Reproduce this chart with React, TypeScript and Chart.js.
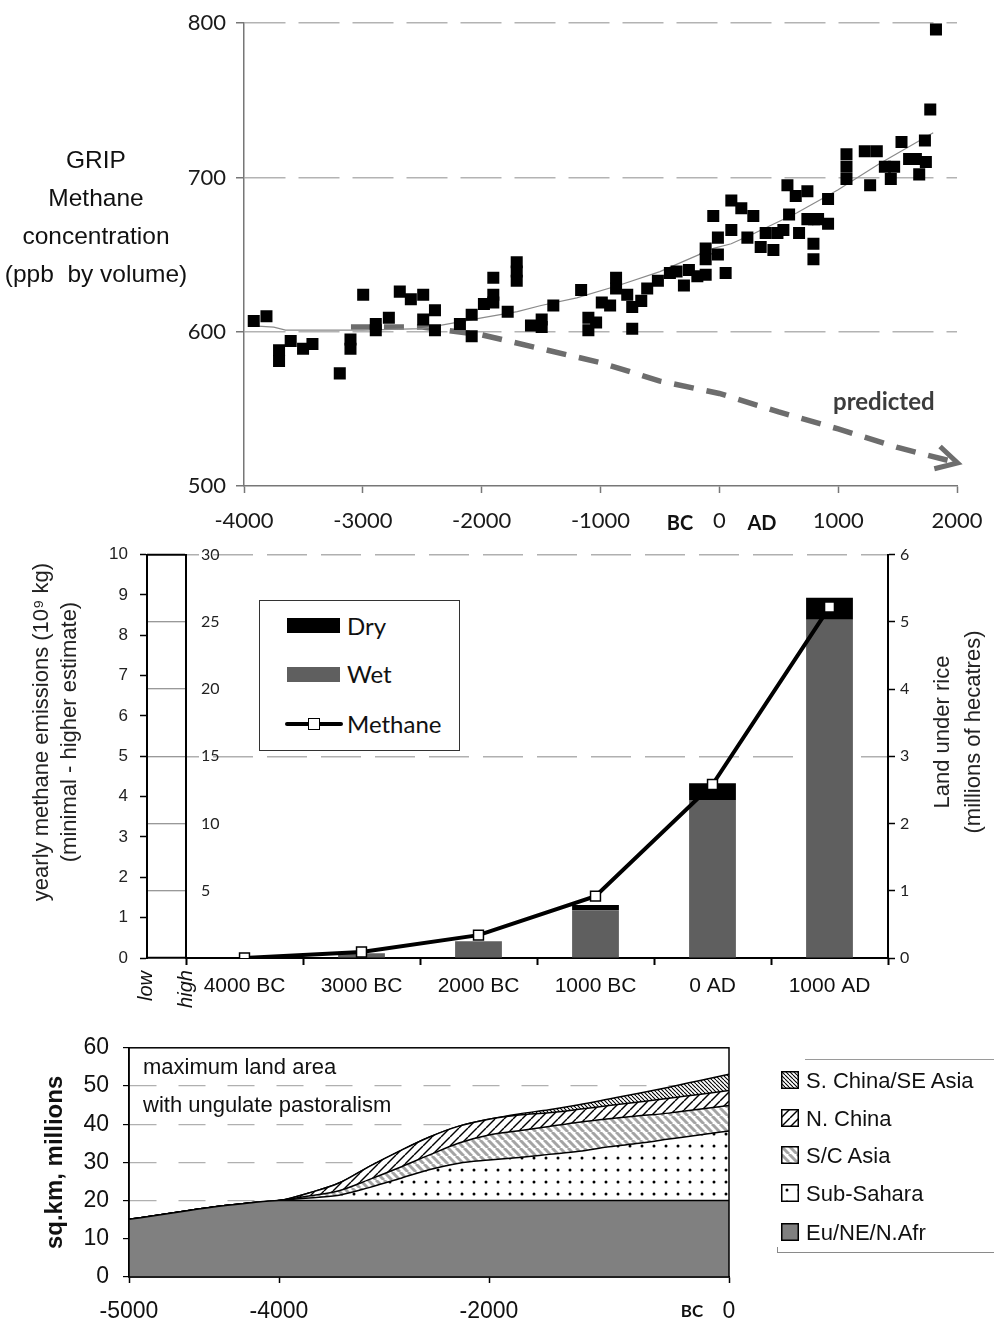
import React, { useEffect, useRef } from 'react';
import { Chart, registerables } from 'chart.js';
Chart.register(...registerables);

// ---------------- Top panel: GRIP methane ----------------
const gripYears = [
  -3918, -3811, -3705, -3705, -3607, -3503, -3424, -3194, -3104, -3104,
  -2997, -2891, -2891, -2781, -2689, -2596, -2492, -2492, -2393, -2393,
  -2183, -2084, -2084, -1981, -1902, -1902, -1902, -1781, -1705, -1705,
  -1705, -1585, -1495, -1495, -1397, -1163, -1102, -1102, -1037, -989,
  -919, -869, -869, -775, -733, -733, -657, -607, -517, -416,
  -360, -298, -256, -185, -115, -115, -115, -51, -12, -12,
  53, 101, 101, 185, 236, 286, 348, 390, 455, 489,
  539, 573, 587, 643, 671, 741, 741, 797, 792, 792,
  831, 915, 915, 1070, 1070, 1070, 1224, 1269, 1325, 1393,
  1443, 1471, 1533, 1597, 1654, 1682, 1730, 1738, 1775, 1823,
];
const gripPpb = [
  607, 610, 588, 581, 594, 589, 592, 573, 595, 589,
  624, 605, 601, 609, 626, 621, 624, 608, 614, 601,
  605, 611, 597, 618, 635, 624, 619, 613, 645, 639,
  633, 604, 608, 603, 617, 627, 609, 601, 606, 619,
  617, 635, 628, 624, 616, 602, 620, 628, 633, 638,
  639, 630, 640, 636, 654, 647, 637, 675, 661, 650,
  638, 685, 666, 680, 661, 675, 655, 664, 653, 664,
  666, 695, 676, 688, 664, 691, 673, 673, 657, 647,
  673, 686, 670, 715, 707, 699, 717, 695, 717, 707,
  699, 707, 723, 712, 712, 702, 724, 710, 744, 796,
];
const trendYears = [-3950, -3750, -3650, -3000, -2500, -2000, -1700, -1500, -1200, -850, -500, -50, 100, 300, 650, 1000, 1350, 1800];
const trendPpb = [604, 603, 601, 601, 602, 609, 613, 617, 622, 630, 639, 654, 657, 664, 677, 692, 709, 729];
const predYears = [-3100, -2500, -2000, -1500, -1000, -500, 0, 500, 1000, 1500, 2005];
const predPpb = [603, 603, 598, 589, 580, 568, 560, 548, 537, 525, 515];
const topXTicks = [-4000, -3000, -2000, -1000, 0, 1000, 2000];
const topYTicks = [500, 600, 700, 800];

// ---------------- Middle panel: rice ----------------
const riceCategories = ['4000 BC', '3000 BC', '2000 BC', '1000 BC', '0 AD', '1000 AD'];
const wetLand = [0, 0.07, 0.25, 0.71, 2.35, 5.03];
const dryLand = [0, 0, 0, 0.08, 0.25, 0.33];
const methaneEmission = [0, 0.45, 1.7, 4.6, 12.9, 26.1];
const lowTicks = [0, 1, 2, 3, 4, 5, 6, 7, 8, 9, 10];
const highTicks = [0, 5, 10, 15, 20, 25, 30];
const riceTicks = [0, 1, 2, 3, 4, 5, 6];

// ---------------- Bottom panel: pastoralism ----------------
const landYears = [-5000, -4800, -4600, -4400, -4200, -4000, -3714, -3429, -3143, -2857, -2571, -2286, -2000, -1750, -1500, -1250, -1000, -750, -500, -250, 0];
const landTickYears = [-5000, -4000, -2000, 0];
const euNeNAfr = [15.1, 16.2, 17.4, 18.5, 19.4, 20, 20, 20, 20, 20, 20, 20, 20, 20, 20, 20, 20, 20, 20, 20, 20];
const subSahara = [0, 0, 0, 0, 0, 0, 0.7, 1.4, 3.4, 5.7, 8.1, 9.8, 10.6, 11.3, 12.1, 12.9, 14.1, 15.0, 16.1, 17.2, 18.2];
const scAsia = [0, 0, 0, 0, 0, 0, 0.5, 1.2, 2.1, 2.9, 3.8, 5.3, 6.6, 7.0, 7.3, 7.6, 7.3, 7.2, 6.8, 6.7, 6.7];
const nChina = [0, 0, 0, 0, 0, 0, 0.8, 2.0, 3.4, 4.3, 4.7, 4.4, 4.1, 4.1, 3.6, 3.4, 3.5, 3.6, 3.9, 3.9, 3.9];
const sChinaSEAsia = [0, 0, 0, 0, 0, 0, 0, 0, 0, 0, 0, 0, 0, 0.3, 0.8, 1.2, 1.7, 2.3, 2.9, 3.6, 4.3];
const landYTicks = [0, 10, 20, 30, 40, 50, 60];

const ARIAL = 'Liberation Sans';
const CALIBRI = 'Lato';

function makeFill(kind: string): any {
  if (kind === 'eu') return '#808080';
  const tile = document.createElement('canvas');
  let s = 12;
  if (kind === 'dots') s = 12;
  if (kind === 'sc') s = 8;
  if (kind === 'nc') s = 9;
  if (kind === 'sch') s = 4;
  tile.width = s; tile.height = s;
  const c = tile.getContext('2d')!;
  c.fillStyle = '#fff';
  c.fillRect(0, 0, s, s);
  if (kind === 'dots') {
    c.fillStyle = '#000';
    c.beginPath(); c.arc(6, 6, 1.5, 0, Math.PI * 2); c.fill();
  } else if (kind === 'sc') {
    c.strokeStyle = '#a4a4a4'; c.lineWidth = 3;
    for (const k of [-s, 0, s]) { c.beginPath(); c.moveTo(k, 0); c.lineTo(k + s, s); c.stroke(); }
  } else if (kind === 'nc') {
    c.strokeStyle = '#000'; c.lineWidth = 1.4;
    for (const k of [-s, 0, s]) { c.beginPath(); c.moveTo(k, s); c.lineTo(k + s, 0); c.stroke(); }
  } else if (kind === 'sch') {
    c.strokeStyle = '#000'; c.lineWidth = 1.1;
    for (const k of [-s, 0, s]) { c.beginPath(); c.moveTo(k, 0); c.lineTo(k + s, s); c.stroke(); }
  }
  const tmp = document.createElement('canvas').getContext('2d')!;
  return tmp.createPattern(tile, 'repeat');
}

const arrowPlugin = {
  id: 'arrowHead',
  afterDatasetsDraw(chart: any) {
    const meta = chart.getDatasetMeta(2);
    const pts = meta.data;
    const n = pts.length;
    if (n < 2) return;
    const a = pts[n - 2], b = pts[n - 1];
    const ang = Math.atan2(b.y - a.y, b.x - a.x);
    const ctx = chart.ctx;
    const L = 24, spread = 0.5;
    ctx.save();
    ctx.strokeStyle = '#6d6d6d';
    ctx.lineWidth = 5;
    ctx.lineJoin = 'miter';
    ctx.setLineDash([]);
    ctx.beginPath();
    ctx.moveTo(b.x - L * Math.cos(ang - spread), b.y - L * Math.sin(ang - spread));
    ctx.lineTo(b.x, b.y);
    ctx.lineTo(b.x - L * Math.cos(ang + spread), b.y - L * Math.sin(ang + spread));
    ctx.stroke();
    ctx.restore();
  },
};

const framePlugin = {
  id: 'frame',
  afterDatasetsDraw(chart: any) {
    const { ctx, chartArea: a } = chart;
    ctx.save();
    ctx.strokeStyle = '#000';
    ctx.lineWidth = 1.5;
    ctx.strokeRect(a.left, a.top, a.right - a.left, a.bottom - a.top);
    ctx.restore();
  },
};

function TopChart() {
  const ref = useRef<HTMLCanvasElement>(null);
  useEffect(() => {
    const chart = new Chart(ref.current!, {
      type: 'scatter',
      data: {
        datasets: [
          {
            label: 'GRIP methane',
            data: gripYears.map((x, i) => ({ x, y: gripPpb[i] })),
            pointStyle: 'rect',
            pointRadius: 8.5,
            backgroundColor: '#000',
            borderColor: '#000',
            borderWidth: 0,
            showLine: false,
          },
          {
            label: 'trend',
            data: trendYears.map((x, i) => ({ x, y: trendPpb[i] })),
            showLine: true,
            borderColor: '#8a8a8a',
            borderWidth: 1.2,
            pointRadius: 0,
          },
          {
            label: 'predicted',
            data: predYears.map((x, i) => ({ x, y: predPpb[i] })),
            showLine: true,
            borderColor: '#6d6d6d',
            borderWidth: 5.5,
            borderDash: [20, 13],
            pointRadius: 0,
          },
        ],
      } as any,
      options: {
        responsive: false,
        animation: false,
        devicePixelRatio: 1,
        layout: { padding: { top: 20, right: 37, left: 0, bottom: 0 } },
        plugins: { legend: { display: false }, tooltip: { enabled: false } },
        scales: {
          x: {
            type: 'linear',
            min: -4000,
            max: 2000,
            afterBuildTicks: (s: any) => { s.ticks = topXTicks.map((v) => ({ value: v })); },
            afterFit: (s: any) => { s.height = 59; s.paddingLeft = 0; s.paddingRight = 0; },
            grid: { display: true, drawOnChartArea: false, tickLength: 7, tickColor: '#777', tickWidth: 1.5 },
            border: { color: '#777', width: 1.5 },
            ticks: { padding: 15, color: '#1a1a1a', font: { family: CALIBRI, size: 22 }, maxRotation: 0, callback: (v: any) => String(v) },
          },
          y: {
            min: 500,
            max: 800,
            afterBuildTicks: (s: any) => { s.ticks = topYTicks.map((v) => ({ value: v })); },
            afterFit: (s: any) => { s.width = 244; },
            grid: {
              color: (c: any) => (c.tick && c.tick.value > 500 ? '#b3b3b3' : 'rgba(0,0,0,0)'),
              lineWidth: 1.5,
              tickColor: '#777',
              tickLength: 8,
              tickWidth: 1.5,
            },
            border: { color: '#777', width: 1.5, dash: [41, 13] },
            ticks: { padding: 10, color: '#1a1a1a', font: { family: CALIBRI, size: 22 }, callback: (v: any) => String(v) },
          },
        },
      } as any,
      plugins: [arrowPlugin],
    });
    return () => chart.destroy();
  }, []);
  return <canvas ref={ref} width={994} height={545} style={{ position: 'absolute', left: 0, top: 0, width: 994, height: 545 }} />;
}

function MidChart() {
  const ref = useRef<HTMLCanvasElement>(null);
  useEffect(() => {
    const chart = new Chart(ref.current!, {
      type: 'bar',
      data: {
        labels: riceCategories,
        datasets: [
          {
            type: 'line',
            label: 'Methane',
            data: methaneEmission,
            yAxisID: 'high',
            borderColor: '#000',
            borderWidth: 4,
            pointStyle: 'rect',
            pointRadius: 7,
            pointBackgroundColor: '#fff',
            pointBorderColor: '#000',
            pointBorderWidth: 1.5,
            order: 0,
          },
          {
            label: 'Wet',
            data: wetLand,
            yAxisID: 'rice',
            backgroundColor: '#5f5f5f',
            stack: 'land',
            barPercentage: 0.4,
            categoryPercentage: 1,
            order: 1,
          },
          {
            label: 'Dry',
            data: dryLand,
            yAxisID: 'rice',
            backgroundColor: '#000',
            stack: 'land',
            barPercentage: 0.4,
            categoryPercentage: 1,
            order: 1,
          },
        ],
      } as any,
      options: {
        responsive: false,
        animation: false,
        devicePixelRatio: 1,
        layout: { padding: { top: 23, right: 76, left: 0, bottom: 0 } },
        plugins: { legend: { display: false }, tooltip: { enabled: false } },
        scales: {
          x: {
            stacked: true,
            offset: true,
            afterFit: (s: any) => { s.height = 62; s.paddingLeft = 0; s.paddingRight = 0; },
            grid: { offset: true, drawOnChartArea: false, tickLength: 7, tickColor: '#000', tickWidth: 2 },
            border: { color: '#000', width: 2 },
            ticks: { padding: 9, color: '#111', font: { family: ARIAL, size: 21 }, maxRotation: 0 },
          },
          rice: {
            position: 'right',
            stacked: true,
            min: 0,
            max: 6,
            afterBuildTicks: (s: any) => { s.ticks = riceTicks.map((v) => ({ value: v })); },
            afterFit: (s: any) => { s.width = 30; },
            grid: { drawOnChartArea: false, tickLength: 7, tickColor: '#000', tickWidth: 1.5 },
            border: { color: '#000', width: 2 },
            ticks: { padding: 5, color: '#222', font: { family: CALIBRI, size: 16 } },
          },
          high: {
            position: 'left',
            weight: 0,
            min: 0,
            max: 30,
            afterBuildTicks: (s: any) => { s.ticks = highTicks.map((v) => ({ value: v })); },
            afterFit: (s: any) => { s.width = 39; },
            grid: {
              color: (c: any) => (c.tick && (c.tick.value === 15 || c.tick.value === 30) ? '#b0b0b0' : 'rgba(0,0,0,0)'),
              lineWidth: 1.5,
              tickLength: 39,
              tickColor: (c: any) => (c.tick && (c.tick.value === 0 || c.tick.value === 30) ? '#000' : '#777'),
              tickWidth: (c: any) => (c.tick && (c.tick.value === 0 || c.tick.value === 30) ? 2 : 1),
            },
            border: { color: '#000', width: 2, dash: [40, 14], dashOffset: -26 },
            ticks: {
              mirror: true,
              padding: 15,
              color: '#222',
              font: { family: CALIBRI, size: 16 },
              callback: (v: any) => (v === 0 ? '' : String(v)),
            },
          },
          low: {
            position: 'left',
            weight: 10,
            min: 0,
            max: 10,
            afterBuildTicks: (s: any) => { s.ticks = lowTicks.map((v) => ({ value: v })); },
            afterFit: (s: any) => { s.width = 147; },
            grid: { drawOnChartArea: false, tickLength: 7, tickColor: '#000', tickWidth: 1.5 },
            border: { color: '#000', width: 2 },
            ticks: { padding: 12, color: '#222', font: { family: ARIAL, size: 17 } },
          },
        },
      } as any,
    });
    return () => chart.destroy();
  }, []);
  return <canvas ref={ref} width={994} height={490} style={{ position: 'absolute', left: 0, top: 530, width: 994, height: 490 }} />;
}

function BottomChart() {
  const ref = useRef<HTMLCanvasElement>(null);
  useEffect(() => {
    const common = { borderColor: '#000', borderWidth: 1.5, pointRadius: 0, cubicInterpolationMode: 'monotone' };
    const chart = new Chart(ref.current!, {
      type: 'line',
      data: {
        labels: landYears,
        datasets: [
          { label: 'Eu/NE/N.Afr', data: euNeNAfr, fill: 'origin', backgroundColor: makeFill('eu'), ...common },
          { label: 'Sub-Sahara', data: subSahara, fill: '-1', backgroundColor: makeFill('dots'), ...common },
          { label: 'S/C Asia', data: scAsia, fill: '-1', backgroundColor: makeFill('sc'), ...common },
          { label: 'N. China', data: nChina, fill: '-1', backgroundColor: makeFill('nc'), ...common },
          { label: 'S. China/SE Asia', data: sChinaSEAsia, fill: '-1', backgroundColor: makeFill('sch'), ...common },
        ],
      } as any,
      options: {
        responsive: false,
        animation: false,
        devicePixelRatio: 1,
        layout: { padding: { top: 25, right: 265, left: 0, bottom: 0 } },
        plugins: { legend: { display: false }, tooltip: { enabled: false } },
        scales: {
          x: {
            afterFit: (s: any) => { s.height = 44; s.paddingLeft = 0; s.paddingRight = 0; },
            grid: {
              drawOnChartArea: false,
              tickLength: 6,
              tickWidth: 1.5,
              tickColor: (c: any) => (landTickYears.includes(landYears[c.index]) ? '#000' : 'rgba(0,0,0,0)'),
            },
            border: { color: '#000', width: 1.5 },
            ticks: {
              autoSkip: false,
              maxRotation: 0,
              padding: 15,
              color: '#111',
              font: { family: ARIAL, size: 23 },
              callback: (_v: any, i: number) => (landTickYears.includes(landYears[i]) ? String(landYears[i]) : ''),
            },
          },
          y: {
            stacked: true,
            min: 0,
            max: 60,
            afterBuildTicks: (s: any) => { s.ticks = landYTicks.map((v) => ({ value: v })); },
            afterFit: (s: any) => { s.width = 129; },
            grid: {
              color: (c: any) => (c.tick && c.tick.value > 0 && c.tick.value < 60 ? '#b0b0b0' : 'rgba(0,0,0,0)'),
              lineWidth: 1.2,
              tickLength: 6,
              tickColor: '#000',
            },
            border: { color: '#000', width: 1.5, dash: [27, 22] },
            ticks: { padding: 14, color: '#111', font: { family: ARIAL, size: 23 } },
            title: {
              display: true,
              text: 'sq.km, millions',
              color: '#111',
              font: { family: ARIAL, size: 24, weight: 'bold' },
              padding: { top: 41, bottom: 0 },
            },
          },
        },
      } as any,
      plugins: [framePlugin],
    });
    return () => chart.destroy();
  }, []);
  return <canvas ref={ref} width={994} height={301} style={{ position: 'absolute', left: 0, top: 1020, width: 994, height: 301 }} />;
}

function Swatch({ kind, left, top }: { kind: string; left: number; top: number }) {
  const ref = useRef<HTMLCanvasElement>(null);
  useEffect(() => {
    const c = ref.current!.getContext('2d')!;
    c.fillStyle = makeFill(kind);
    c.fillRect(0, 0, 18, 18);
    c.strokeStyle = '#000';
    c.lineWidth = 1.5;
    c.strokeRect(0.75, 0.75, 16.5, 16.5);
  }, [kind]);
  return <canvas ref={ref} width={18} height={18} style={{ position: 'absolute', left, top }} />;
}

function Txt(props: any) {
  const { x, y, text, size, family = ARIAL, weight = 400, color = '#111', italic = false, align = 'left', lh, rotate = 0, w = 600 } = props;
  const lineH = lh || Math.round(size * 1.3);
  const lines = Array.isArray(text) ? text : [text];
  const h = lineH * lines.length;
  const style: any = {
    position: 'absolute',
    top: y - h / 2,
    height: h,
    lineHeight: lineH + 'px',
    fontFamily: family,
    fontSize: size,
    fontWeight: weight,
    fontStyle: italic ? 'italic' : 'normal',
    color,
    whiteSpace: 'pre',
  };
  if (align === 'center' || rotate) {
    style.left = x - w / 2;
    style.width = w;
    style.textAlign = 'center';
  } else {
    style.left = x;
  }
  if (rotate) {
    style.transform = `rotate(${rotate}deg)`;
    style.transformOrigin = 'center center';
  }
  return (
    <div style={style}>
      {lines.map((l: string, i: number) => (
        <div key={i}>{l}</div>
      ))}
    </div>
  );
}

export default function App() {
  return (
    <div style={{ position: 'absolute', left: 0, top: 0, width: 994, height: 1321, background: '#fff', overflow: 'hidden' }}>
      <TopChart />
      <MidChart />
      <BottomChart />

      {/* Top panel texts */}
      <Txt x={96} y={217} text={['GRIP', 'Methane', 'concentration', '(ppb  by volume)']} size={24.5} lh={38} align="center" w={210} />
      <Txt x={833} y={400} text="predicted" size={24} family={CALIBRI} weight={700} color="#3c3c3c" />
      <Txt x={680} y={522} text="BC" size={20} family={CALIBRI} weight={700} align="center" w={60} />
      <Txt x={762} y={522} text="AD" size={20} family={CALIBRI} weight={700} align="center" w={60} />

      {/* Middle panel texts */}
      <Txt x={55} y={732} text={['yearly methane emissions (10\u2079 kg)', '(minimal - higher estimate)']} size={22} lh={28} rotate={-90} w={420} color="#222" />
      <Txt x={957} y={732} text={['Land under rice', '(millions of hecatres)']} size={22} lh={31} rotate={-90} w={300} color="#222" />
      <Txt x={145} y={986} text="low" size={20} italic rotate={-90} w={60} color="#111" />
      <Txt x={185} y={989} text="high" size={20} italic rotate={-90} w={60} color="#111" />

      <div style={{ position: 'absolute', left: 259, top: 600, width: 201, height: 151, border: '1.5px solid #333', background: '#fff', boxSizing: 'border-box' }} />
      <div style={{ position: 'absolute', left: 287, top: 618, width: 53, height: 15, background: '#000' }} />
      <div style={{ position: 'absolute', left: 287, top: 667, width: 53, height: 15, background: '#5f5f5f' }} />
      <div style={{ position: 'absolute', left: 285, top: 722, width: 58, height: 4, background: '#000', borderRadius: 2 }} />
      <div style={{ position: 'absolute', left: 308, top: 718, width: 12, height: 12, background: '#fff', border: '1.5px solid #000', boxSizing: 'border-box' }} />
      <Txt x={347} y={625} text="Dry" size={24} family={CALIBRI} />
      <Txt x={347} y={673} text="Wet" size={24} family={CALIBRI} />
      <Txt x={347} y={723} text="Methane" size={24} family={CALIBRI} />

      {/* Bottom panel texts */}
      <Txt x={143} y={1066} text="maximum land area" size={22} />
      <Txt x={143} y={1104} text="with ungulate pastoralism" size={22} />
      <Txt x={692} y={1311} text="BC" size={17} family={CALIBRI} weight={700} align="center" w={40} />

      <div style={{ position: 'absolute', left: 805, top: 1059, width: 189, height: 1, background: '#9a9a9a' }} />
      <div style={{ position: 'absolute', left: 777, top: 1252, width: 217, height: 1, background: '#8a8a8a' }} />
      <div style={{ position: 'absolute', left: 777, top: 1247, width: 1, height: 6, background: '#8a8a8a' }} />
      <Swatch kind="sch" left={781} top={1071} />
      <Swatch kind="nc" left={781} top={1109} />
      <Swatch kind="sc" left={781} top={1146} />
      <Swatch kind="dots" left={781} top={1184} />
      <Swatch kind="eu" left={781} top={1223} />
      <Txt x={806} y={1080} text="S. China/SE Asia" size={22} />
      <Txt x={806} y={1118} text="N. China" size={22} />
      <Txt x={806} y={1155} text="S/C Asia" size={22} />
      <Txt x={806} y={1193} text="Sub-Sahara" size={22} />
      <Txt x={806} y={1232} text="Eu/NE/N.Afr" size={22} />
    </div>
  );
}
